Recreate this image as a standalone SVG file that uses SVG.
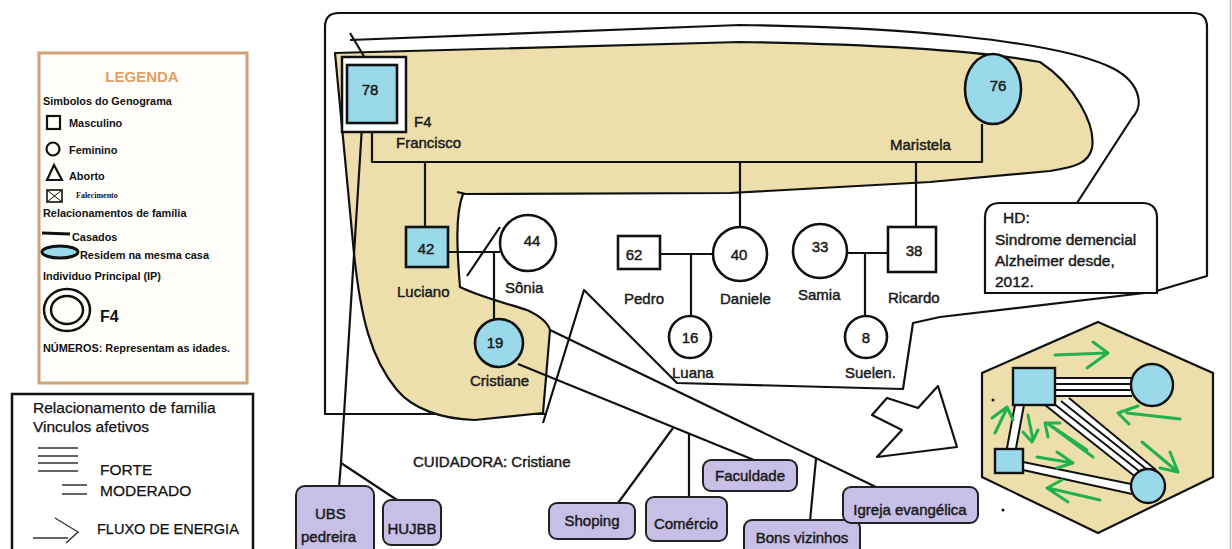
<svg xmlns="http://www.w3.org/2000/svg" width="1232" height="549" viewBox="0 0 1232 549">
<style>
.ln{stroke:#111;stroke-width:2.2;fill:none;stroke-linejoin:round}
.nd{stroke:#111;stroke-width:2.6}
.blue{fill:#99D9EA}
.wh{fill:#fff}
.tan{fill:#ECDFAC}
.lbl{font-family:"Liberation Sans",Arial,sans-serif;font-size:15px;fill:#1a1a1a;stroke:#1a1a1a;stroke-width:0.45}
.mid{text-anchor:middle}
.box{fill:#C8BFE7;stroke:#222;stroke-width:2}
.leg{font-family:"Liberation Sans",Arial,sans-serif;font-weight:bold;font-size:10.9px;fill:#111}
.big{font-family:"Liberation Sans",Arial,sans-serif;font-size:15.5px;fill:#111;stroke:#111;stroke-width:0.25}
.grn{stroke:#22B14C;stroke-width:3;fill:none;stroke-linecap:round;stroke-linejoin:round}
</style>
<rect x="0" y="0" width="1232" height="549" fill="#fff"/>
<line x1="1230.5" y1="0" x2="1230.5" y2="549" stroke="#b4b9c4" stroke-width="1.5"/>

<!-- Legend -->
<g id="legenda">
<rect x="39" y="53" width="208" height="330" fill="#fffefa" stroke="#cfa277" stroke-width="3"/>
<text x="142" y="82" text-anchor="middle" font-family="Liberation Sans, Arial, sans-serif" font-weight="bold" font-size="15" fill="#E2A063">LEGENDA</text>
<text class="leg" x="43" y="105">Simbolos do Genograma</text>
<rect x="47" y="116" width="13" height="13" fill="none" stroke="#111" stroke-width="2.2"/>
<text class="leg" x="69" y="127">Masculino</text>
<circle cx="53" cy="149" r="6.5" fill="none" stroke="#111" stroke-width="2.2"/>
<text class="leg" x="69" y="154">Feminino</text>
<polygon points="47,180 54,165 62,180" fill="none" stroke="#111" stroke-width="2.2"/>
<text class="leg" x="69" y="180">Aborto</text>
<rect x="47" y="190" width="15" height="12" fill="none" stroke="#111" stroke-width="1.6"/>
<path d="M47,190 L62,202 M62,190 L47,202" stroke="#111" stroke-width="1" fill="none"/>
<text x="76" y="198" font-family="Liberation Serif, serif" font-weight="bold" font-size="8" fill="#111">Falecimento</text>
<text class="leg" x="43" y="217">Relacionamentos de família</text>
<line x1="42" y1="233" x2="70" y2="234" stroke="#111" stroke-width="3"/>
<text class="leg" x="72" y="241">Casados</text>
<ellipse cx="60" cy="252" rx="18" ry="6" fill="#99D9EA" stroke="#111" stroke-width="3"/>
<text class="leg" x="80" y="259">Residem na mesma casa</text>
<text class="leg" x="43" y="280">Individuo Principal  (IP)</text>
<ellipse cx="67" cy="310" rx="23" ry="21" fill="none" stroke="#111" stroke-width="2.5"/>
<ellipse cx="67" cy="310" rx="16" ry="14" fill="none" stroke="#111" stroke-width="2.5"/>
<text x="100" y="322" font-family="Liberation Sans, Arial, sans-serif" font-weight="bold" font-size="16" fill="#111">F4</text>
<text class="leg" x="43" y="352">NÚMEROS: Representam as idades.</text>
</g>

<g id="legenda-vinculos">
<rect x="12" y="394" width="241" height="170" fill="#fff" stroke="#111" stroke-width="2.5"/>
<text class="big" x="33" y="413">Relacionamento de familia</text>
<text class="big" x="33" y="432">Vinculos afetivos</text>
<path d="M38,448 H78 M38,456 H78 M38,463 H78 M38,471 H78" stroke="#333" stroke-width="1.6"/>
<text class="big" x="100" y="475">FORTE</text>
<path d="M62,485 H87 M62,494 H87" stroke="#333" stroke-width="1.6"/>
<text class="big" x="100" y="496">MODERADO</text>
<path d="M33,538 H68 M55,518 L78,532 L66,543" stroke="#333" stroke-width="1.4" fill="none"/>
<text class="big" x="97" y="534" style="font-size:14.5px">FLUXO DE ENERGIA</text>
</g>

<!-- Regions -->
<g id="regioes">
<path class="ln" d="M547,414 L325,414 L325,27 Q325,13 339,13 L1193,13 Q1207,13 1207,27 L1207,276 L1153,292 L940,317 L913,323 L903,389 L677,383 L584,290 L543,423"/>
<path class="ln" d="M350,40 L740,25 C900,27 1050,40 1108,66 C1140,80 1145,105 1132,118 L1077,203"/>
<path class="ln tan" d="M335,53 L740,42 C860,44 975,50 1040,62 C1075,85 1096,125 1092,148 C1089,163 1075,167 1050,171 L930,182 L730,193 L463,194 C455,215 457,250 460,287 C478,296 505,303 527,310 C540,316 548,323 550,330 L543,413 L475,420 C440,419 412,408 397,390 C372,360 360,320 353,243 Z"/>
<line class="ln" x1="457" y1="192" x2="466" y2="194"/>
</g>

<!-- Connectors -->
<g id="conectores">
<line class="ln" x1="350" y1="33" x2="368" y2="63"/>
<polyline class="ln" points="372,123 372,162 982,162 982,124"/>
<line class="ln" x1="425" y1="162" x2="425" y2="227"/>
<line class="ln" x1="740" y1="162" x2="740" y2="228"/>
<line class="ln" x1="916" y1="162" x2="916" y2="227"/>
<line class="ln" x1="446" y1="252" x2="500" y2="252"/>
<line class="ln" x1="467" y1="276" x2="500" y2="227"/>
<line class="ln" x1="494" y1="252" x2="494" y2="319"/>
<line class="ln" x1="660" y1="254" x2="713" y2="254"/>
<line class="ln" x1="691" y1="254" x2="691" y2="317"/>
<line class="ln" x1="847" y1="253" x2="888" y2="253"/>
<line class="ln" x1="865" y1="253" x2="865" y2="317"/>
<polyline class="ln" points="362,126 341,463 339,487"/>
<line class="ln" x1="341" y1="463" x2="397" y2="500"/>
<line class="ln" x1="518" y1="364" x2="754" y2="460"/>
<line class="ln" x1="673" y1="428" x2="618" y2="503"/>
<line class="ln" x1="689" y1="434" x2="689" y2="497"/>
<line class="ln" x1="550" y1="330" x2="878" y2="488"/>
<line class="ln" x1="816" y1="459" x2="810" y2="521"/>
</g>

<!-- Nodes -->
<g id="francisco">
<rect x="342" y="57" width="64" height="75" fill="#fff" stroke="#111" stroke-width="2.5"/>
<rect class="nd blue" x="347" y="65" width="50" height="58"/>
<text class="lbl mid" x="370" y="95">78</text>
<text class="lbl" x="414" y="127">F4</text>
<text class="lbl" x="396" y="148">Francisco</text>
</g>
<g id="maristela">
<ellipse class="nd blue" cx="993" cy="89" rx="28" ry="35"/>
<text class="lbl mid" x="998" y="91">76</text>
<text class="lbl" x="890" y="150">Maristela</text>
</g>
<g id="luciano">
<rect class="nd blue" x="406" y="227" width="42" height="40"/>
<text class="lbl mid" x="426" y="254">42</text>
<text class="lbl" x="397" y="297">Luciano</text>
</g>
<g id="sonia">
<circle class="nd wh" cx="528" cy="243" r="28"/>
<text class="lbl mid" x="532" y="246">44</text>
<text class="lbl" x="505" y="293">Sônia</text>
</g>
<g id="cristiane">
<circle class="nd blue" cx="499" cy="343" r="24"/>
<text class="lbl mid" x="495" y="348">19</text>
<text class="lbl" x="470" y="386">Cristiane</text>
</g>
<g id="pedro">
<rect class="nd wh" x="618" y="236" width="42" height="33"/>
<text class="lbl mid" x="634" y="260">62</text>
<text class="lbl" x="624" y="304">Pedro</text>
</g>
<g id="daniele">
<circle class="nd wh" cx="740" cy="254" r="27"/>
<text class="lbl mid" x="739" y="260">40</text>
<text class="lbl" x="720" y="304">Daniele</text>
</g>
<g id="luana">
<circle class="nd wh" cx="690" cy="337" r="21"/>
<text class="lbl mid" x="690" y="343">16</text>
<text class="lbl" x="672" y="378">Luana</text>
</g>
<g id="samia">
<circle class="nd wh" cx="820" cy="251" r="27"/>
<text class="lbl mid" x="820" y="252">33</text>
<text class="lbl" x="798" y="300">Samia</text>
</g>
<g id="ricardo">
<rect class="nd wh" x="888" y="227" width="48" height="45"/>
<text class="lbl mid" x="914" y="256">38</text>
<text class="lbl" x="888" y="303">Ricardo</text>
</g>
<g id="suelen">
<circle class="nd wh" cx="866" cy="337" r="21"/>
<text class="lbl mid" x="866" y="343">8</text>
<text class="lbl" x="845" y="378">Suelen.</text>
</g>

<g id="hd">
<path d="M985,293 L985,218 Q985,203 1000,203 L1142,203 Q1157,203 1157,218 L1157,293 Z" fill="#fff" stroke="#111" stroke-width="2.2"/>
<text class="lbl" x="1003" y="223" style="font-size:15.5px">HD:</text>
<text class="lbl" x="995" y="245" style="font-size:15.5px">Sindrome demencial</text>
<text class="lbl" x="995" y="266" style="font-size:15.5px">Alzheimer desde,</text>
<text class="lbl" x="995" y="287" style="font-size:15.5px">2012.</text>
</g>

<text class="lbl" x="413" y="467">CUIDADORA: Cristiane</text>

<!-- Network boxes -->
<g id="ubs"><rect class="box" x="296" y="486" width="78" height="72" rx="9"/>
<text class="lbl" x="315" y="519">UBS</text><text class="lbl" x="301" y="542">pedreira</text></g>
<g id="hujbb"><rect class="box" x="383" y="500" width="58" height="45" rx="8"/>
<text class="lbl mid" x="412" y="534">HUJBB</text></g>
<g id="shoping"><rect class="box" x="549" y="503" width="86" height="36" rx="8"/>
<text class="lbl mid" x="592" y="526">Shoping</text></g>
<g id="comercio"><rect class="box" x="646" y="497" width="81" height="44" rx="8"/>
<text class="lbl mid" x="686" y="529">Comércio</text></g>
<g id="faculdade"><rect class="box" x="703" y="460" width="94" height="31" rx="8"/>
<text class="lbl mid" x="750" y="481">Faculdade</text></g>
<g id="bons-vizinhos"><rect class="box" x="744" y="520" width="116" height="36" rx="8"/>
<text class="lbl mid" x="802" y="543">Bons vizinhos</text></g>
<g id="igreja"><rect class="box" x="843" y="487" width="135" height="36" rx="8"/>
<text class="lbl mid" x="910" y="515">Igreja evangélica</text></g>

<!-- Arrow -->
<g id="seta">
<polygon points="938,386 957,447 877,457 902,430 872,415 887,398 918,408" fill="#fff" stroke="#111" stroke-width="2.2" stroke-linejoin="round"/>
</g>

<!-- Hexagon ecomap -->
<g id="hexagono">
<polygon points="1098,322 1213,373 1213,477 1098,533 982,477 982,373" class="tan" stroke="#111" stroke-width="2.2"/>
<polygon points="1055,378 1132,378 1132,396 1055,396" fill="#fff"/>
<path d="M1055,378 H1132 M1055,384 H1132 M1055,390 H1132 M1055,396 H1132" stroke="#111" stroke-width="2"/>
<polygon points="1045,405 1069,398 1156,470 1137,478" fill="#fff"/>
<path d="M1045,405 L1137,478 M1053,403 L1144,475 M1061,401 L1150,472 M1069,398 L1156,470" stroke="#111" stroke-width="2"/>
<polygon points="1007,448 1015,405 1024,405 1016,448" fill="#fff"/>
<path d="M1007,448 L1015,405 M1016,448 L1024,405" stroke="#111" stroke-width="2"/>
<polygon points="1023,462 1131,484 1132,494 1023,470" fill="#fff"/>
<path d="M1023,462 L1131,484 M1023,470 L1132,494" stroke="#111" stroke-width="2"/>
<rect x="1013" y="368" width="42" height="37" class="blue" stroke="#111" stroke-width="2.4"/>
<circle cx="1152" cy="385" r="21" class="blue" stroke="#111" stroke-width="2.4"/>
<rect x="995" y="449" width="28" height="24" class="blue" stroke="#111" stroke-width="2.4"/>
<circle cx="1148" cy="486" r="17" class="blue" stroke="#111" stroke-width="2.4"/>
<path class="grn" d="M1055,355 L1107,353 M1093,342 L1108,353 L1087,368"/>
<path class="grn" d="M1180,419 L1127,413 M1138,406 L1118,413 L1129,424"/>
<path class="grn" d="M995,433 L1007,408 M992,418 L1007,407 L1013,420"/>
<path class="grn" d="M1028,415 L1033,440 M1023,432 L1032,442 L1038,430"/>
<path class="grn" d="M1093,457 L1047,423 M1087,450 L1053,427 M1048,437 L1045,423 L1060,423"/>
<path class="grn" d="M1037,457 L1073,463 M1057,452 L1073,463 L1057,468"/>
<path class="grn" d="M1100,500 L1048,488 M1062,480 L1047,488 L1068,502"/>
<path class="grn" d="M1142,442 L1178,472 M1170,452 L1178,472 L1160,468"/>
<circle cx="993" cy="400" r="1.5" fill="#111"/>
<circle cx="1003" cy="510" r="1.5" fill="#111"/>
</g>
</svg>
